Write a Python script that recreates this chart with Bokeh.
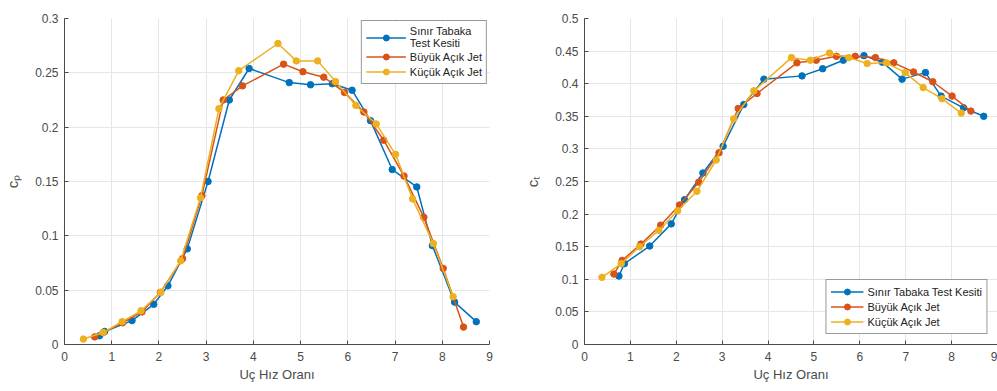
from bokeh.plotting import figure
from bokeh.layouts import row
from bokeh.models import FixedTicker, Legend, LegendItem
from bokeh.embed import file_html
from bokeh.resources import INLINE

# ---------------- data ----------------
series_names = ["Sınır Tabaka\nTest Kesiti", "Büyük Açık Jet", "Küçük Açık Jet"]
series_names_right = ["Sınır Tabaka Test Kesiti", "Büyük Açık Jet", "Küçük Açık Jet"]
colors = ["#0072BD", "#D95319", "#EDB120"]

x_label = "Uç Hız Oranı"
y_label_left = "cₚ"
y_label_right = "cₜ"

# Left chart: c_P
cp_blue_x = [0.74, 0.85, 1.43, 1.89, 2.19, 2.60, 3.04, 3.49, 3.91, 4.76, 5.21, 5.67, 6.09, 6.48, 6.94, 7.46, 7.79, 8.26, 8.72]
cp_blue_y = [0.008, 0.012, 0.022, 0.037, 0.054, 0.088, 0.150, 0.225, 0.254, 0.241, 0.239, 0.240, 0.234, 0.206, 0.161, 0.145, 0.091, 0.039, 0.021]
cp_red_x = [0.64, 0.82, 1.23, 1.64, 2.03, 2.50, 2.91, 3.36, 3.77, 4.64, 5.05, 5.49, 5.93, 6.34, 6.76, 7.19, 7.61, 8.02, 8.45]
cp_red_y = [0.007, 0.011, 0.020, 0.030, 0.048, 0.079, 0.137, 0.225, 0.238, 0.258, 0.251, 0.246, 0.232, 0.214, 0.188, 0.155, 0.117, 0.070, 0.016]
cp_yel_x = [0.40, 0.82, 1.22, 1.62, 2.04, 2.46, 2.88, 3.27, 3.69, 4.52, 4.91, 5.36, 5.74, 6.17, 6.60, 7.01, 7.37, 7.81, 8.23]
cp_yel_y = [0.005, 0.011, 0.021, 0.031, 0.048, 0.077, 0.135, 0.217, 0.252, 0.277, 0.261, 0.261, 0.242, 0.220, 0.203, 0.175, 0.134, 0.093, 0.044]

# Right chart: c_T
ct_blue_x = [0.75, 0.87, 1.42, 1.89, 2.18, 2.58, 3.02, 3.47, 3.91, 4.74, 5.19, 5.64, 6.09, 6.49, 6.92, 7.43, 7.77, 8.26, 8.70]
ct_blue_y = [0.105, 0.124, 0.151, 0.185, 0.222, 0.263, 0.304, 0.368, 0.407, 0.412, 0.423, 0.436, 0.443, 0.433, 0.407, 0.417, 0.381, 0.363, 0.350]
ct_red_x = [0.64, 0.82, 1.23, 1.66, 2.07, 2.49, 2.93, 3.35, 3.76, 4.63, 5.05, 5.49, 5.90, 6.34, 6.74, 7.17, 7.59, 8.01, 8.42]
ct_red_y = [0.108, 0.129, 0.154, 0.183, 0.214, 0.249, 0.294, 0.362, 0.385, 0.432, 0.436, 0.442, 0.442, 0.440, 0.432, 0.418, 0.403, 0.381, 0.358]
ct_yel_x = [0.38, 0.80, 1.20, 1.62, 2.03, 2.45, 2.87, 3.25, 3.69, 4.51, 4.92, 5.34, 5.76, 6.16, 6.58, 6.99, 7.38, 7.79, 8.21]
ct_yel_y = [0.103, 0.124, 0.150, 0.175, 0.205, 0.235, 0.283, 0.346, 0.389, 0.440, 0.436, 0.447, 0.440, 0.431, 0.432, 0.417, 0.394, 0.377, 0.355]

x_ticks = [0, 1, 2, 3, 4, 5, 6, 7, 8, 9]
cp_ticks = [0, 0.05, 0.1, 0.15, 0.2, 0.25, 0.3]
cp_tick_labels = ["0", "0.05", "0.1", "0.15", "0.2", "0.25", "0.3"]
ct_ticks = [0, 0.05, 0.1, 0.15, 0.2, 0.25, 0.3, 0.35, 0.4, 0.45, 0.5]
ct_tick_labels = ["0", "0.05", "0.1", "0.15", "0.2", "0.25", "0.3", "0.35", "0.4", "0.45", "0.5"]

FONT = "Liberation Sans"
AX_COL = "#4a4a4a"
GRID_COL = "#e6e6e6"


def style(p, yticks, ylabels, ylab):
    p.outline_line_color = None
    p.xaxis.ticker = FixedTicker(ticks=x_ticks)
    p.yaxis.ticker = FixedTicker(ticks=yticks)
    p.yaxis.major_label_overrides = {t: l for t, l in zip(yticks, ylabels)}
    p.xaxis.major_label_overrides = {t: str(t) for t in x_ticks}
    for ax in (p.xaxis, p.yaxis):
        ax.axis_line_color = AX_COL
        ax.major_tick_line_color = AX_COL
        ax.major_tick_in = 4
        ax.major_tick_out = 0
        ax.minor_tick_line_color = None
        ax.major_label_text_font = FONT
        ax.major_label_text_font_size = "12px"
        ax.major_label_text_color = AX_COL
        ax.axis_label_text_font = FONT
        ax.axis_label_text_font_size = "13px"
        ax.axis_label_text_font_style = "normal"
        ax.axis_label_text_color = AX_COL
    p.xaxis.major_label_standoff = 7
    p.yaxis.major_label_standoff = 6
    p.xaxis.axis_label = x_label
    p.xaxis.axis_label_standoff = 3
    p.yaxis.axis_label = ylab
    p.yaxis.axis_label_standoff = 11
    p.yaxis.axis_label_text_font_size = "15px"
    p.xgrid.grid_line_color = GRID_COL
    p.ygrid.grid_line_color = GRID_COL
    p.xgrid.ticker = FixedTicker(ticks=x_ticks)
    p.ygrid.ticker = FixedTicker(ticks=yticks)


def add_series(p, xs, ys, color):
    l = p.line(xs, ys, line_color=color, line_width=1.5)
    s = p.scatter(xs, ys, marker="circle", size=6.5, fill_color=color, line_color=color)
    return [l, s]


# ---------------- left figure ----------------
p1 = figure(width=500, height=391, x_range=(0, 9), y_range=(0, 0.3),
            output_backend="svg", toolbar_location=None,
            min_border_left=64, min_border_right=11, min_border_top=10, min_border_bottom=44)
style(p1, cp_ticks, cp_tick_labels, y_label_left)
r1 = [add_series(p1, x, y, c) for x, y, c in
      [(cp_blue_x, cp_blue_y, colors[0]), (cp_red_x, cp_red_y, colors[1]), (cp_yel_x, cp_yel_y, colors[2])]]
leg1 = Legend(items=[LegendItem(label=n, renderers=r) for n, r in zip(series_names, r1)],
              location="top_right")
p1.add_layout(leg1)

# ---------------- right figure ----------------
p2 = figure(width=497, height=391, x_range=(0, 9), y_range=(0, 0.5),
            output_backend="svg", toolbar_location=None,
            min_border_left=84, min_border_right=0, min_border_top=18, min_border_bottom=47)
style(p2, ct_ticks, ct_tick_labels, y_label_right)
r2 = [add_series(p2, x, y, c) for x, y, c in
      [(ct_blue_x, ct_blue_y, colors[0]), (ct_red_x, ct_red_y, colors[1]), (ct_yel_x, ct_yel_y, colors[2])]]
leg2 = Legend(items=[LegendItem(label=n, renderers=r) for n, r in zip(series_names_right, r2)],
              location="bottom_right")
p2.add_layout(leg2)

for lg, gw, margin in ((leg1, 40, 2), (leg2, 33, 10)):
    lg.margin = margin
    lg.padding = 4
    lg.spacing = 0
    lg.glyph_width = gw
    lg.glyph_height = 15
    lg.label_height = 15
    lg.label_standoff = 4
    lg.label_text_font = FONT
    lg.label_text_font_size = "11px"
    lg.label_text_color = "#222222"
    lg.border_line_color = "#333333"
    lg.border_line_width = 1
    lg.background_fill_color = "white"
    lg.background_fill_alpha = 1.0

layout = row(p1, p2)
open("out.html", "w").write(file_html(layout, INLINE))
